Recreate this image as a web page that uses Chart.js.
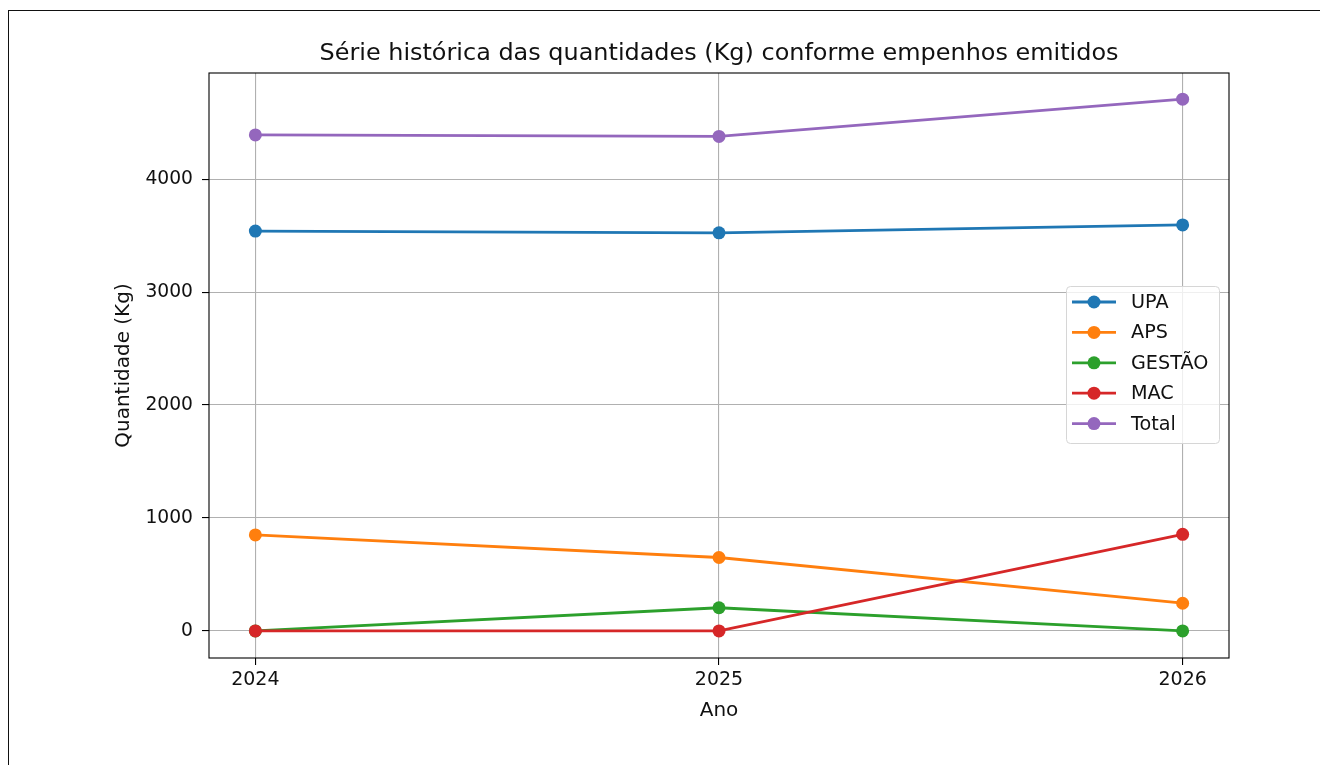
<!DOCTYPE html>
<html>
<head>
<meta charset="utf-8">
<script src="https://cdn.jsdelivr.net/npm/chart.js@4.4.0/dist/chart.umd.min.js"></script>
<style>
html, body { margin: 0; padding: 0; background: #fff; }
#wrap { width: 1320px; height: 765px; }
</style>
</head>
<body>
<div id="wrap"><canvas id="grafico" width="1320" height="765"></canvas></div>
<script>
// dados
const anos = [2024, 2025, 2026];
const upa = [3540, 3525, 3595];
const aps = [850, 650, 245];
const gestao = [0, 205, 0];
const mac = [0, 0, 855];
const total = [4392, 4378, 4708];
const nomes = ['UPA', 'APS', 'GESTÃO', 'MAC', 'Total'];
const cores = ['#1f77b4', '#ff7f0e', '#2ca02c', '#d62728', '#9467bd'];
const yTicks = [0, 1000, 2000, 3000, 4000];

const FONTE = '"DejaVu Sans", sans-serif';
const TXT = '#111';

const series = [upa, aps, gestao, mac, total];
const datasets = series.map((vals, i) => ({
    label: nomes[i],
    data: anos.map((a, j) => ({ x: a, y: vals[j] })),
    borderColor: cores[i],
    backgroundColor: cores[i],
    borderWidth: 2.8,
    pointRadius: 6.5,
    pointHoverRadius: 6.5,
    pointBorderWidth: 0,
    tension: 0,
    order: series.length - i // igual ao matplotlib: o último fica por cima
}));

// moldura externa, título, rótulos dos eixos, borda do gráfico e legenda
const extras = {
    id: 'extras',
    beforeDraw(chart) {
        const c = chart.ctx;
        c.save();
        c.fillStyle = '#fff';
        c.fillRect(0, 0, chart.width, chart.height);
        c.strokeStyle = '#111';
        c.lineWidth = 1;
        c.strokeRect(8.5, 10.5, 2000, 2000);
        c.restore();
    },
    afterDraw(chart) {
        const c = chart.ctx;
        const a = chart.chartArea;
        c.save();
        // borda
        c.strokeStyle = '#000';
        c.lineWidth = 1.1;
        c.strokeRect(a.left, a.top, a.right - a.left, a.bottom - a.top);

        const cx = (a.left + a.right) / 2;
        c.fillStyle = TXT;
        c.textAlign = 'center';
        c.textBaseline = 'alphabetic';

        // título (largura medida na referência: ~799px)
        c.font = '23px ' + FONTE;
        const titulo = 'Série histórica das quantidades (Kg) conforme empenhos emitidos';
        const sx = 799 / c.measureText(titulo).width;
        c.save();
        c.translate(cx, 59.5);
        c.scale(sx, 1);
        c.fillText(titulo, 0, 0);
        c.restore();

        c.font = '20px ' + FONTE;
        c.fillText('Ano', cx, 715.5);

        c.save();
        c.translate(129, (a.top + a.bottom) / 2);
        c.rotate(-Math.PI / 2);
        c.fillText('Quantidade (Kg)', 0, 0);
        c.restore();

        // legenda
        const lx = 1066, ly = 286, lw = 153, lh = 157;
        c.beginPath();
        c.roundRect(lx + 0.5, ly + 0.5, lw, lh, 4);
        c.fillStyle = 'rgba(255,255,255,0.8)';
        c.fill();
        c.strokeStyle = '#d6d6d6';
        c.lineWidth = 1;
        c.stroke();

        c.font = '19.2px ' + FONTE;
        c.textAlign = 'left';
        c.textBaseline = 'middle';
        nomes.forEach((n, i) => {
            const y = 302 + i * 30.4;
            c.strokeStyle = cores[i];
            c.lineWidth = 2.8;
            c.beginPath();
            c.moveTo(1072, y);
            c.lineTo(1116, y);
            c.stroke();
            c.fillStyle = cores[i];
            c.beginPath();
            c.arc(1094, y, 6.5, 0, Math.PI * 2);
            c.fill();
            c.fillStyle = TXT;
            c.fillText(n, 1131, y + 1);
        });
        c.restore();
    }
};

new Chart(document.getElementById('grafico'), {
    type: 'line',
    data: { datasets },
    options: {
        responsive: false,
        animation: false,
        layout: { padding: { left: 0, top: 73, right: 91, bottom: 0 } },
        plugins: {
            legend: { display: false },
            title: { display: false },
            tooltip: { enabled: false }
        },
        scales: {
            x: {
                type: 'linear',
                min: 2023.9,
                max: 2026.1,
                afterBuildTicks: s => { s.ticks = anos.map(v => ({ value: v })); },
                afterFit: s => { s.height = 765 - 658; },
                grid: { color: '#b0b0b0', lineWidth: 1.1, tickColor: '#000', tickLength: 7 },
                border: { display: false },
                ticks: {
                    color: TXT,
                    font: { family: FONTE, size: 19 },
                    padding: 4,
                    maxRotation: 0,
                    callback: v => String(v)
                }
            },
            y: {
                min: -240,
                max: 4940,
                afterBuildTicks: s => { s.ticks = yTicks.map(v => ({ value: v })); },
                afterFit: s => { s.width = 209; },
                grid: { color: '#b0b0b0', lineWidth: 1.1, tickColor: '#000', tickLength: 7 },
                border: { display: false },
                ticks: {
                    color: TXT,
                    font: { family: FONTE, size: 18.7 },
                    padding: 9,
                    callback: v => String(v)
                }
            }
        }
    },
    plugins: [extras]
});
</script>
</body>
</html>
